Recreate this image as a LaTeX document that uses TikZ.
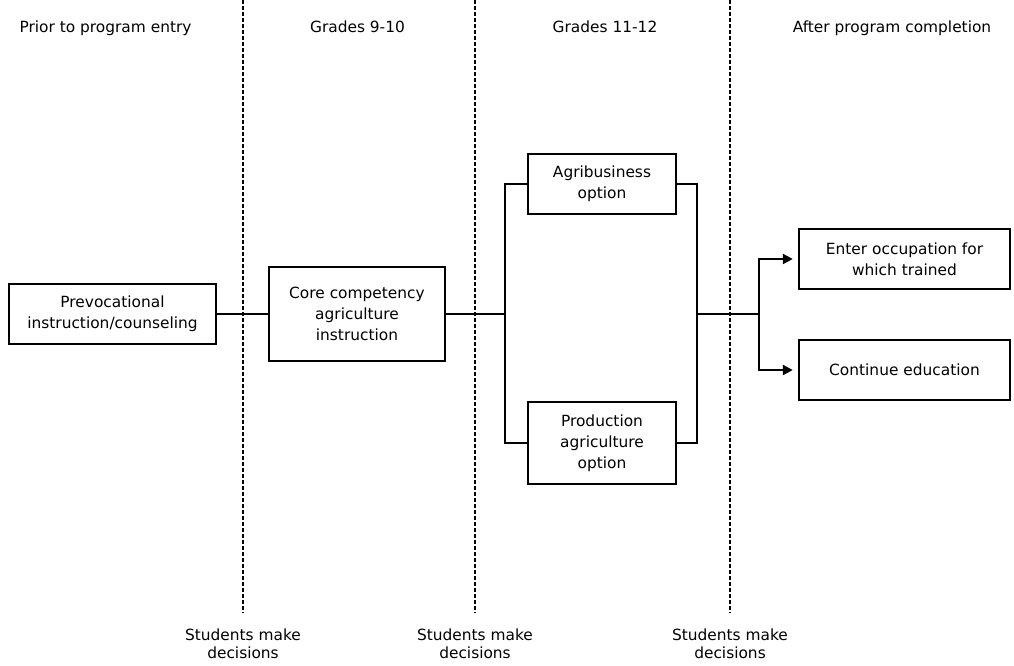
\documentclass[tikz,border=0pt]{standalone}
\usepackage{fontspec}
\setmainfont{DejaVu Sans}
\usetikzlibrary{arrows.meta}

\begin{document}
\begin{tikzpicture}[x=1pt, y=-1pt,
  txt/.style={inner sep=0pt, align=center, font=\fontsize{15.4}{20.8}\selectfont},
  box/.style={txt, draw, line width=2.4pt, inner sep=3pt},
  decide/.style={txt, anchor=north, font=\fontsize{15.4}{18}\selectfont},
  link/.style={line width=2.2pt},
  arrowlink/.style={line width=2.2pt, -{Triangle[length=10pt,width=10pt]}, shorten >=5pt},
  divider/.style={line width=1.4pt, dash pattern=on 4pt off 2pt}]
\useasboundingbox (0,0) rectangle (1014,666);
\node[txt, anchor=base] (hdPrior) at (105.5,33) {Prior to program entry};
\node[txt, anchor=base] (hdGradesA) at (357.5,33) {Grades 9-10};
\node[txt, anchor=base] (hdGradesB) at (605,33) {Grades 11-12};
\node[txt, anchor=base] (hdAfter) at (892,33) {After program completion};
\node[decide] (decA) at (243,628.5) {Students make\\decisions};
\node[decide] (decB) at (475,628.5) {Students make\\decisions};
\node[decide] (decC) at (730,628.5) {Students make\\decisions};
\coordinate (topA) at (243,0);
\coordinate (topB) at (475,0);
\coordinate (topC) at (730,0);
\draw[divider, shorten >=16pt] (topA) -- (decA.north);
\draw[divider, shorten >=16pt] (topB) -- (decB.north);
\draw[divider, shorten >=16pt] (topC) -- (decC.north);
\node[box, minimum width=207pt, minimum height=60pt] (prevoc) at (112.5,314) {Prevocational\\instruction/counseling};
\node[box, minimum width=176pt, minimum height=94pt] (core) at (357,314) {Core competency\\agriculture\\instruction};
\node[box, minimum width=148pt, minimum height=60pt] (agri) at (602,184) {Agribusiness\\option};
\node[box, minimum width=148pt, minimum height=82pt] (prod) at (602,443) {Production\\agriculture\\option};
\node[box, minimum width=211pt, minimum height=60pt] (enter) at (904.5,259) {Enter occupation for\\which trained};
\node[box, minimum width=211pt, minimum height=60pt] (contin) at (904.5,370) {Continue education};
\coordinate (joinL) at (505,314);
\coordinate (joinR) at (697,314);
\coordinate (split) at (759,314);
\draw[link] (prevoc) -- (core);
\draw[link] (core) -- (joinL);
\draw[link] (agri.west) -| (joinL) |- (prod.west);
\draw[link] (agri.east) -| (joinR) |- (prod.east);
\draw[link] (joinR) -- (split);
\draw[arrowlink] (split) |- (enter.west);
\draw[arrowlink] (split) |- (contin.west);
\end{tikzpicture}
\end{document}
